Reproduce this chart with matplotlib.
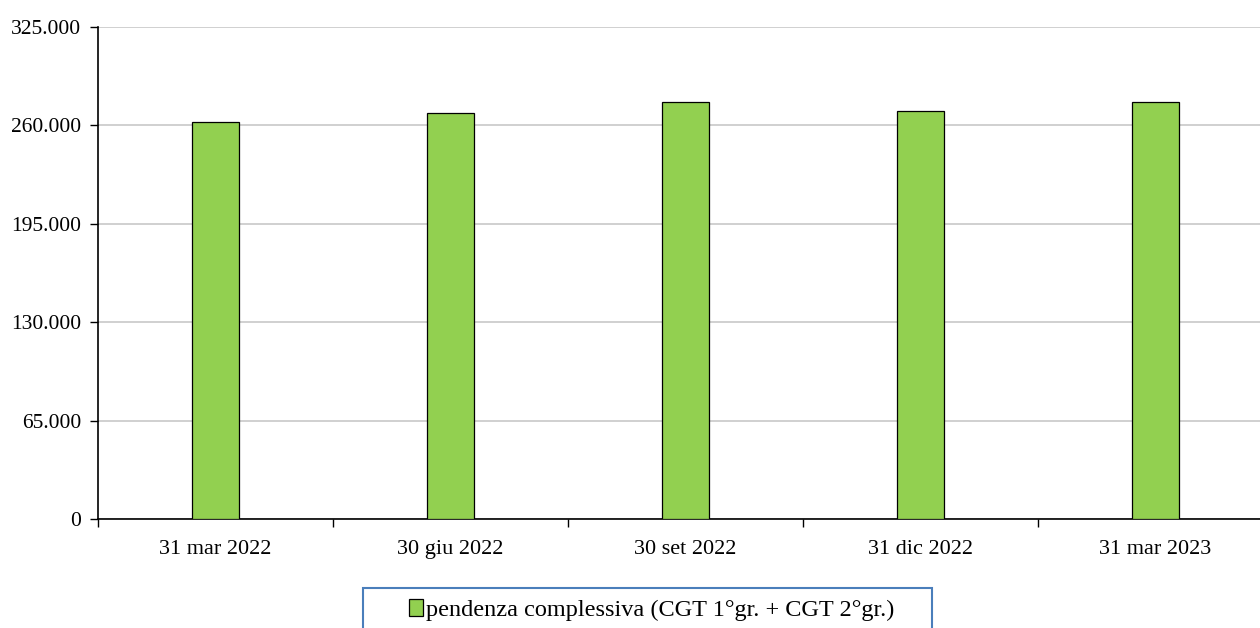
import matplotlib.pyplot as plt
import matplotlib.patches as mpatches
import numpy as np
from matplotlib.ticker import FuncFormatter, FixedLocator

# Data
dates = ['31 mar 2022', '30 giu 2022', '30 set 2022', '31 dic 2022', '31 mar 2023']
pendenza = [262500, 268000, 275300, 269700, 275300]
series_label = 'pendenza complessiva (CGT 1°gr. + CGT 2°gr.)'

plt.rcParams['font.family'] = ['Liberation Serif', 'DejaVu Serif']

fig = plt.figure(figsize=(12.6, 6.28), dpi=100)
# axis runs off the right edge of the picture, as in the original
ax = fig.add_axes([98 / 1260, 1 - 519 / 628, 1175 / 1260, 492 / 628])

x = np.arange(len(dates))
ax.bar(x, pendenza, width=0.2, color='#92d050', edgecolor='black',
       linewidth=0.9, zorder=3, label=series_label)

ax.set_xlim(-0.5, len(dates) - 0.5)
ax.set_ylim(0, 325000)
ax.set_yticks(np.arange(0, 325001, 65000))
ax.yaxis.set_major_formatter(FuncFormatter(lambda v, p: f'{int(v):,}'.replace(',', '.')))
ax.grid(axis='y', color='#c8c8c8', linewidth=1.2, zorder=0)

ax.set_xticks(x)
ax.set_xticklabels(dates)
ax.xaxis.set_minor_locator(FixedLocator(np.arange(-0.5, len(dates), 1.0)))
ax.tick_params(axis='x', which='major', length=0, pad=15, labelsize=16)
ax.tick_params(axis='x', which='minor', length=6, width=1, direction='out')
ax.tick_params(axis='y', length=6, width=1, direction='out', labelsize=15.5, pad=6)

for s in ['top', 'right']:
    ax.spines[s].set_visible(False)
ax.spines['left'].set_linewidth(1.2)
ax.spines['bottom'].set_linewidth(1.2)

# legend below the plot, box cut by the bottom edge
frame = mpatches.Rectangle((363 / 1260, -0.05), (932 - 363) / 1260, 0.05 + (628 - 588) / 628,
                           transform=fig.transFigure, fill=False,
                           edgecolor='#4a7ebb', linewidth=1.5)
fig.patches.append(frame)
fig.legend(loc='center', bbox_to_anchor=(652 / 1260, 1 - 610 / 628), frameon=False,
           fontsize=17.5, handlelength=0.55, handleheight=0.7, handletextpad=0.15)

fig.savefig('out.png', dpi=100)
